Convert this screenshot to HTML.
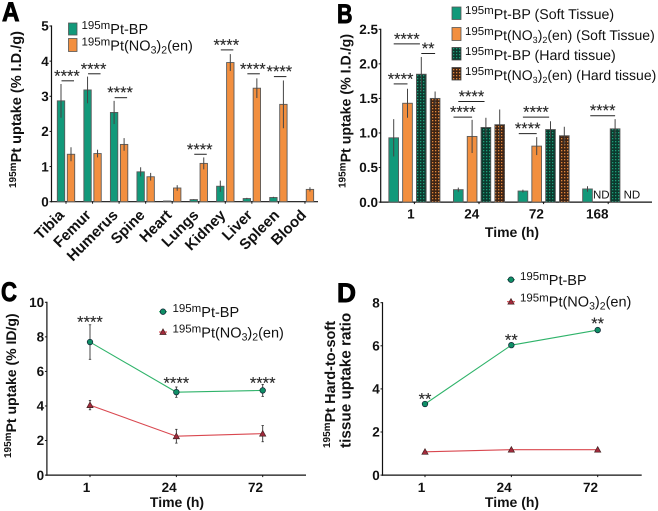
<!DOCTYPE html>
<html lang="en">
<head>
<meta charset="utf-8">
<title>195mPt uptake charts</title>
<style>
html,body{margin:0;padding:0;background:#fff;width:658px;height:511px;overflow:hidden}
svg{display:block;filter:blur(.35px)}
text{font-family:"Liberation Sans",sans-serif;fill:#111;text-rendering:geometricPrecision}
.tick{font-weight:700;font-size:13.5px}
.title{font-weight:700;font-size:14px}
.sup{font-size:10px}
.leg{font-size:14.5px}
.legsup{font-size:11.5px}
.legsub{font-size:10.5px}
.panel{font-weight:700;font-size:27px;fill:#000;stroke:#000;stroke-width:.9px}
.stars{font-size:16.5px;fill:#2a2a2a;stroke:#2a2a2a;stroke-width:.15px}
</style>
</head>
<body>
<svg id="figure" width="658" height="511" viewBox="0 0 658 511" xmlns="http://www.w3.org/2000/svg">
<defs>
<pattern id="dots-green" width="3" height="3" patternUnits="userSpaceOnUse"><rect width="3" height="3" fill="#0b3a2e"/><rect x="0" y="0" width="1.3" height="1.3" fill="#1c9c78"/></pattern>
<pattern id="dots-orange" width="3" height="3" patternUnits="userSpaceOnUse"><rect width="3" height="3" fill="#3f2414"/><rect x="0" y="0" width="1.3" height="1.3" fill="#e0853a"/></pattern>
</defs>

<text class="panel" x="2" y="21" textLength="17.5" lengthAdjust="spacingAndGlyphs">A</text>
<text class="panel" x="337" y="23" textLength="15.5" lengthAdjust="spacingAndGlyphs">B</text>
<text class="panel" x="1" y="301" textLength="16" lengthAdjust="spacingAndGlyphs">C</text>
<text class="panel" x="337" y="302" textLength="19" lengthAdjust="spacingAndGlyphs">D</text>

<text class="title" style="font-size:14.5px" transform="translate(21,188) rotate(-90)"><tspan class="sup" dy="-5">195m</tspan><tspan dy="5">Pt uptake (% I.D./g)</tspan></text>
<text class="title" style="font-size:14.2px" transform="translate(350.5,188) rotate(-90)"><tspan class="sup" dy="-5">195m</tspan><tspan dy="5">Pt uptake (% I.D./g)</tspan></text>
<text class="title" transform="translate(16,458) rotate(-90)"><tspan class="sup" dy="-5">195m</tspan><tspan dy="5">Pt uptake (% ID/g)</tspan></text>
<text class="title" style="font-size:14.5px" transform="translate(335,448) rotate(-90)"><tspan class="sup" dy="-5">195m</tspan><tspan dy="5">Pt Hard-to-soft</tspan></text>
<text class="title" style="font-size:15.3px" transform="translate(350.7,448) rotate(-90)">tissue uptake ratio</text>

<text class="title" x="512" y="237" text-anchor="middle">Time (h)</text>
<text class="title" x="177" y="507" text-anchor="middle">Time (h)</text>
<text class="title" x="512" y="507" text-anchor="middle">Time (h)</text>

<g>
<rect x="68.5" y="23" width="8.5" height="12" fill="#12997a" stroke="#555" stroke-width=".8"/>
<rect x="68.5" y="38.5" width="8.5" height="13" fill="#f28f3f" stroke="#555" stroke-width=".8"/>
<text class="leg" x="81.5" y="34"><tspan class="legsup" dy="-5">195m</tspan><tspan dy="5">Pt-BP</tspan></text>
<text class="leg" x="81.5" y="50.5"><tspan class="legsup" dy="-5">195m</tspan><tspan dy="5">Pt(NO</tspan><tspan class="legsub" dy="3">3</tspan><tspan dy="-3">)</tspan><tspan class="legsub" dy="3">2</tspan><tspan dy="-3">(en)</tspan></text>
</g>

<g>
<rect x="452" y="7" width="9" height="12.5" fill="#12997a" stroke="#555" stroke-width=".8"/>
<rect x="452" y="27.5" width="9" height="13" fill="#f28f3f" stroke="#555" stroke-width=".8"/>
<rect x="452" y="47.5" width="9" height="12.5" fill="url(#dots-green)" stroke="#444" stroke-width=".8"/>
<rect x="452" y="67.5" width="9" height="12.5" fill="url(#dots-orange)" stroke="#444" stroke-width=".8"/>
<text class="leg" style="font-size:14.2px" x="465" y="19"><tspan class="legsup" dy="-5">195m</tspan><tspan dy="5">Pt-BP (Soft Tissue)</tspan></text>
<text class="leg" style="font-size:14px" x="465" y="40"><tspan class="legsup" dy="-5">195m</tspan><tspan dy="5">Pt(NO</tspan><tspan class="legsub" style="font-size:9px" dy="3">3</tspan><tspan dy="-3">)</tspan><tspan class="legsub" style="font-size:9px" dy="3">2</tspan><tspan dy="-3">(en) (Soft Tissue)</tspan></text>
<text class="leg" style="font-size:14.2px" x="465" y="60"><tspan class="legsup" dy="-5">195m</tspan><tspan dy="5">Pt-BP (Hard tissue)</tspan></text>
<text class="leg" style="font-size:14px" x="465" y="80"><tspan class="legsup" dy="-5">195m</tspan><tspan dy="5">Pt(NO</tspan><tspan class="legsub" style="font-size:9px" dy="3">3</tspan><tspan dy="-3">)</tspan><tspan class="legsub" style="font-size:9px" dy="3">2</tspan><tspan dy="-3">(en) (Hard tissue)</tspan></text>
</g>

<g>
<text class="leg" x="172.5" y="317"><tspan class="legsup" dy="-5">195m</tspan><tspan dy="5">Pt-BP</tspan></text>
<text class="leg" x="172.5" y="337.5"><tspan class="legsup" dy="-5">195m</tspan><tspan dy="5">Pt(NO</tspan><tspan class="legsub" dy="3">3</tspan><tspan dy="-3">)</tspan><tspan class="legsub" dy="3">2</tspan><tspan dy="-3">(en)</tspan></text>
</g>
<g>
<text class="leg" x="520" y="285"><tspan class="legsup" dy="-5">195m</tspan><tspan dy="5">Pt-BP</tspan></text>
<text class="leg" x="520" y="306.5"><tspan class="legsup" dy="-5">195m</tspan><tspan dy="5">Pt(NO</tspan><tspan class="legsub" dy="3">3</tspan><tspan dy="-3">)</tspan><tspan class="legsub" dy="3">2</tspan><tspan dy="-3">(en)</tspan></text>
</g>
</svg>

<script>
// Panel A data
const tissues = ['Tibia','Femur','Humerus','Spine','Heart','Lungs','Kidney','Liver','Spleen','Blood'];
const aBP = [2.87,3.18,2.54,0.85,0.02,0.06,0.44,0.09,0.12,0];
const aBPErr = [0.48,0.38,0.33,0.13,0,0.01,0.16,0.02,0.02,0];
const aEN = [1.35,1.37,1.63,0.71,0.39,1.09,3.96,3.23,2.77,0.35];
const aENErr = [0.2,0.11,0.18,0.11,0.08,0.17,0.24,0.28,0.68,0.06];
const aTicks = [0,1,2,3,4,5];
// Significance: tissue index, bracket value, marker
const aSigIndex = [0,1,2,5,6,7,8];
const aSigValue = [3.44,3.64,2.96,1.35,4.32,3.64,3.56];

// Panel B data
const times = ['1','24','72','168'];
const bSoftBP = [0.93,0.18,0.16,0.19];
const bSoftBPErr = [0.27,0.03,0.02,0.04];
const bSoftEN = [1.43,0.95,0.81,null];
const bSoftENErr = [0.21,0.24,0.13,null];
const bHardBP = [1.85,1.08,1.05,1.06];
const bHardBPErr = [0.25,0.14,0.12,0.14];
const bHardEN = [1.5,1.12,0.96,null];
const bHardENErr = [0.1,0.22,0.13,null];
const bTicks = ['0.0','0.5','1.0','1.5','2.0','2.5'];
const bSigGroup = [0,0,0,1,1,2,2,3];
const bSigFrom = [0,2,0,0,-0.35,0,-0.3,0.2];
const bSigTo = [1.9,3,1,1.9,1,1.9,1,2];
const bSigValue = [2.29,2.15,1.71,1.455,1.23,1.23,0.99,1.25];
const bSigMark = ['****','**','****','****','****','****','****','****'];

// Panel C data
const lineTimes = ['1','24','72'];
const cBP = [7.7,4.8,4.9];
const cBPErr = [1.0,0.3,0.35];
const cEN = [4.05,2.25,2.4];
const cENErr = [0.27,0.4,0.47];
const cTicks = [0,2,4,6,8,10];
const cSigValue = [8.94,5.41,5.41];
const cSigMark = ['****','****','****'];

// Panel D data
const dBP = [3.3,6.03,6.73];
const dEN = [1.08,1.18,1.18];
const dTicks = [0,2,4,6,8];
const dSigValue = [3.61,6.35,7.1];
const dSigMark = ['**','**','**'];

const NS = 'http://www.w3.org/2000/svg';
const root = document.getElementById('figure');
const TEAL = '#12997a', ORANGE = '#f28f3f', EDGE = '#5a5a5a';

function add(parent, tag, attrs, name, content) {
  const el = document.createElementNS(NS, tag);
  for (const k in attrs) el.setAttribute(k, attrs[k]);
  
  
  if (content !== undefined) el.textContent = content;
  parent.appendChild(el);
  return el;
}
function linear(d0, d1, r0, r1) {
  return v => r0 + (v - d0) * (r1 - r0) / (d1 - d0);
}
function axes(g, x0, x1, y0, y1, yScale, ticks, xPositions, xLabels, labelY) {
  add(g, 'line', {x1:x0, x2:x0, y1:y1-.6, y2:y0+.6, stroke:'#111', 'stroke-width':1.2}, 'y-axis-line');
  add(g, 'line', {x1:x0-.6, x2:x1, y1:y0, y2:y0, stroke:'#111', 'stroke-width':1.2}, 'x-axis-line');
  ticks.forEach(t => {
    const y = yScale(+t);
    add(g, 'line', {x1:x0-2, x2:x0, y1:y, y2:y, stroke:'#111', 'stroke-width':1}, 'y-tick');
    add(g, 'text', {x:x0-2.7, y:y+4.7, 'text-anchor':'end', class:'tick'}, 'y-tick-label', String(t));
  });
  xPositions.forEach((x, i) => {
    add(g, 'line', {x1:x, x2:x, y1:y0, y2:y0+2, stroke:'#111', 'stroke-width':1}, 'x-tick');
    if (xLabels) add(g, 'text', {x:x+.3, y:labelY, 'text-anchor':'end', class:'tick'}, 'x-tick-label', xLabels[i]);
  });
}
function bar(g, cx, w, v, err, y, fill, name) {
  if (v === null) return;
  add(g, 'rect', {x:cx-w/2, y:y(v), width:w, height:Math.max(0, y(0)-y(v)), fill:fill, stroke:EDGE, 'stroke-width':.9}, name);
  if (err) add(g, 'line', {x1:cx, x2:cx, y1:y(v+err), y2:y(v-err), stroke:'#444', 'stroke-width':1}, name + '-error-bar');
}
function stars(g, x, y, mark) {
  add(g, 'text', {x:x, y:y+7, 'text-anchor':'middle', class:'stars'}, 'significance-marker', mark);
}

// ---- Panel A ----
(function () {
  const g = add(root, 'g', {}, 'panel-a-bar-chart');
  const y = linear(0, 5, 201.7, 26);
  const cx = i => 66 + i * 26.55;
  axes(g, 51.5, 318, y(0), y(5), y, aTicks, tissues.map((_, i) => cx(i)), null);
  tissues.forEach((t, i) => {
    bar(g, cx(i)-5, 7.4, aBP[i], aBPErr[i], y, TEAL, 'bar-bp-' + t.toLowerCase());
    bar(g, cx(i)+5, 7.4, aEN[i], aENErr[i], y, ORANGE, 'bar-en-' + t.toLowerCase());
    add(g, 'text', {transform:'translate(' + (65 + i*26.9) + ',216) rotate(-45)', 'text-anchor':'end', class:'tick', style:'font-size:15px'}, 'x-tick-label', t);
  });
  aSigIndex.forEach((idx, k) => {
    const ly = y(aSigValue[k]);
    add(g, 'line', {x1:cx(idx)-4.5, x2:cx(idx)+8, y1:ly, y2:ly, stroke:'#222', 'stroke-width':1}, 'significance-bracket');
    stars(g, cx(idx)+1, ly-6.5, '****');
  });
})();

// ---- Panel B ----
(function () {
  const g = add(root, 'g', {}, 'panel-b-bar-chart');
  const y = linear(0, 2.5, 202.1, 29.3);
  const barX = (grp, b) => 330 + 63.7 + grp * 64.6 + b * 13.8;
  const centers = times.map((_, i) => barX(i, 1.5));
  axes(g, 380.7, 652, y(0), y(2.5), y, bTicks, centers, times, 218.5);
  times.forEach((t, i) => {
    bar(g, barX(i,0), 9.7, bSoftBP[i], bSoftBPErr[i], y, TEAL, 'bar-bp-soft-' + t + 'h');
    bar(g, barX(i,1), 9.7, bSoftEN[i], bSoftENErr[i], y, ORANGE, 'bar-en-soft-' + t + 'h');
    bar(g, barX(i,2), 9.7, bHardBP[i], bHardBPErr[i], y, 'url(#dots-green)', 'bar-bp-hard-' + t + 'h');
    bar(g, barX(i,3), 9.7, bHardEN[i], bHardENErr[i], y, 'url(#dots-orange)', 'bar-en-hard-' + t + 'h');
  });
  add(g, 'text', {x:barX(3,1), y:198.5, 'text-anchor':'middle', style:'font-size:11.5px'}, 'not-detected-label', 'ND');
  add(g, 'text', {x:barX(3,3.22), y:198.5, 'text-anchor':'middle', style:'font-size:11.5px'}, 'not-detected-label', 'ND');
  bSigGroup.forEach((grp, k) => {
    const ly = y(bSigValue[k]);
    const a = barX(grp, bSigFrom[k]), b = barX(grp, bSigTo[k]);
    add(g, 'line', {x1:a, x2:b, y1:ly, y2:ly, stroke:'#222', 'stroke-width':1}, 'significance-bracket');
    stars(g, (a+b)/2, ly-6.5, bSigMark[k]);
  });
})();

// ---- Line panels ----
function marker(g, kind, x, y, name) {
  if (kind === 'circle') {
    add(g, 'circle', {cx:x, cy:y, r:2.8, fill:'#0f8f66', stroke:'#123', 'stroke-width':.7}, name);
  } else {
    add(g, 'polygon', {points:(x-3.1)+','+(y+2.5)+' '+(x+3.1)+','+(y+2.5)+' '+x+','+(y-3.1), fill:'#a32a3c', stroke:'#422', 'stroke-width':.7}, name);
  }
}
function series(g, xs, vals, errs, y, color, kind, name) {
  const pts = vals.map((v, i) => xs[i] + ',' + y(v)).join(' ');
  add(g, 'polyline', {points:pts, fill:'none', stroke:color, 'stroke-width':1.1}, name + '-line');
  vals.forEach((v, i) => {
    if (errs) {
      add(g, 'line', {x1:xs[i], x2:xs[i], y1:y(v+errs[i]), y2:y(v-errs[i]), stroke:'#333', 'stroke-width':.9}, name + '-error-bar');
      add(g, 'line', {x1:xs[i]-1.2, x2:xs[i]+1.2, y1:y(v+errs[i]), y2:y(v+errs[i]), stroke:'#333', 'stroke-width':.8}, name + '-error-cap');
      add(g, 'line', {x1:xs[i]-1.2, x2:xs[i]+1.2, y1:y(v-errs[i]), y2:y(v-errs[i]), stroke:'#333', 'stroke-width':.8}, name + '-error-cap');
    }
    marker(g, kind, xs[i], y(v), name + '-point');
  });
}
function legendMark(g, x, y, color, kind, name) {
  add(g, 'line', {x1:x-4, x2:x+4, y1:y, y2:y, stroke:color, 'stroke-width':1.1}, name + '-line');
  marker(g, kind, x, y, name + '-marker');
}

// ---- Panel C ----
(function () {
  const g = add(root, 'g', {}, 'panel-c-line-chart');
  const y = linear(0, 10, 475.1, 302.3);
  const xs = lineTimes.map((_, i) => 90 + i * 86.35);
  axes(g, 46.9, 306, y(0), y(10), y, cTicks, xs, lineTimes, 492);
  series(g, xs, cBP, cBPErr, y, '#2fb36a', 'circle', 'series-bp');
  series(g, xs, cEN, cENErr, y, '#d9474f', 'triangle', 'series-en');
  cSigValue.forEach((v, i) => stars(g, xs[i], y(v), cSigMark[i]));
  legendMark(g, 163, 311.7, '#2fb36a', 'circle', 'legend-bp');
  legendMark(g, 163, 332, '#d9474f', 'triangle', 'legend-en');
})();

// ---- Panel D ----
(function () {
  const g = add(root, 'g', {}, 'panel-d-line-chart');
  const y = linear(0, 8, 475.1, 302.7);
  const xs = lineTimes.map((_, i) => 425 + i * 86.35);
  axes(g, 382.5, 641.7, y(0), y(8), y, dTicks, xs, lineTimes, 492);
  series(g, xs, dBP, null, y, '#2fb36a', 'circle', 'series-bp');
  series(g, xs, dEN, null, y, '#d9474f', 'triangle', 'series-en');
  dSigValue.forEach((v, i) => stars(g, xs[i], y(v), dSigMark[i]));
  legendMark(g, 511, 279.7, '#2fb36a', 'circle', 'legend-bp');
  legendMark(g, 511, 301.7, '#d9474f', 'triangle', 'legend-en');
})();
</script>
</body>
</html>
